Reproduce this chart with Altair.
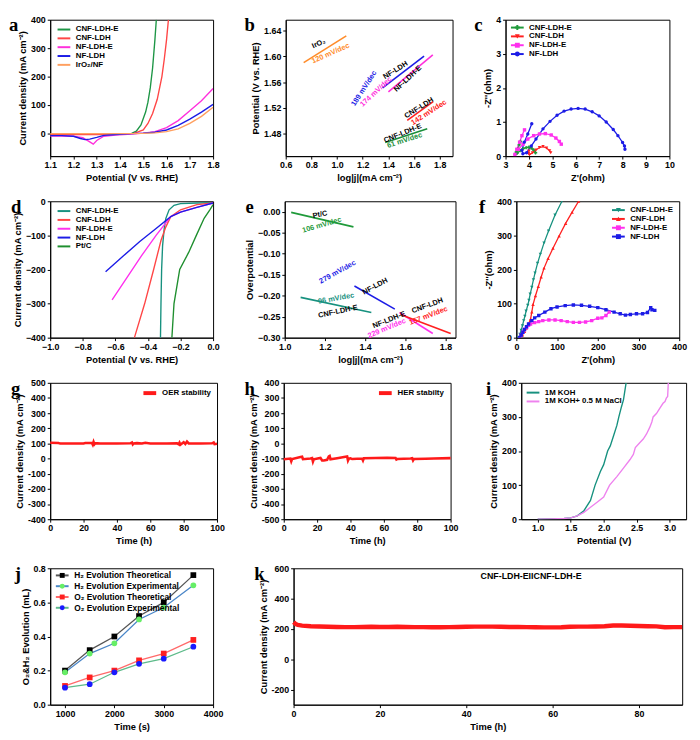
import altair as alt
import pandas as pd

FONT = "Liberation Sans Narrow, Liberation Sans, Arial, sans-serif"
SERIF = "Liberation Serif, Times New Roman, serif"

# ---------------- panel a : OER LSV ----------------
A_NAMES = ["CNF-LDH-E", "CNF-LDH", "NF-LDH-E", "NF-LDH", "IrO₂/NF"]
A_COLORS = ["#1e9646", "#ff4646", "#ff30dc", "#1c1ce6", "#ffa060"]
A_CNFE_V = [1.10, 1.20, 1.30, 1.40, 1.45, 1.47, 1.49, 1.51, 1.52, 1.53, 1.54, 1.55, 1.556]
A_CNFE_J = [-3, -3, -3, -2, 0, 8, 30, 75, 110, 160, 230, 330, 400]
A_CNF_V = [1.10, 1.20, 1.30, 1.40, 1.46, 1.50, 1.52, 1.54, 1.56, 1.58, 1.59, 1.60, 1.608]
A_CNF_J = [-4, -4, -4, -2, 0, 12, 35, 70, 120, 200, 260, 330, 400]
A_NFE_V = [1.10, 1.15, 1.20, 1.24, 1.27, 1.285, 1.30, 1.33, 1.38, 1.45, 1.50, 1.55, 1.60, 1.65, 1.70, 1.75, 1.80]
A_NFE_J = [-9, -9, -10, -15, -30, -38, -25, -10, -6, -2, 1, 6, 20, 45, 80, 115, 158]
A_NF_V = [1.10, 1.15, 1.20, 1.23, 1.25, 1.27, 1.30, 1.33, 1.38, 1.45, 1.50, 1.55, 1.60, 1.65, 1.70, 1.75, 1.80]
A_NF_J = [-8, -8, -10, -18, -22, -20, -14, -7, -4, -1, 1, 4, 12, 28, 50, 75, 102]
A_IRO_V = [1.10, 1.20, 1.30, 1.40, 1.50, 1.55, 1.60, 1.65, 1.70, 1.75, 1.80]
A_IRO_J = [-1, -1, -1, -1, 0, 2, 6, 16, 35, 60, 92]

# ---------------- panel b : OER Tafel ----------------
B_NAMES = ["IrO₂", "NF-LDH", "NF-LDH-E", "CNF-LDH", "CNF-LDH-E"]
B_COLORS = ["#ff8c2a", "#1c1ce6", "#ff30dc", "#ff2020", "#1a8f3a"]
B_X0 = [0.74, 1.355, 1.40, 1.547, 1.375]
B_X1 = [1.072, 1.678, 1.746, 1.749, 1.703]
B_Y0 = [1.590, 1.551, 1.545, 1.501, 1.467]
B_Y1 = [1.631, 1.600, 1.602, 1.530, 1.488]
B_TXT = ["IrO₂", "120 mV/dec", "NF-LDH", "189 mV/dec", "174 mV/dec", "NF-LDH-E",
         "CNF-LDH", "142 mV/dec", "CNF-LDH-E", "61 mV/dec"]
B_TX = [0.858, 0.950, 1.456, 1.211, 1.305, 1.552, 1.640, 1.716, 1.512, 1.527]
B_TY = [1.619, 1.604, 1.578, 1.550, 1.545, 1.565, 1.520, 1.513, 1.481, 1.470]
B_ANG = [335, 336, 328, 303, 317, 317, 328, 327, 338, 342]
B_TCOL = ["black", "#ff8c2a", "black", "#1c1ce6", "#ff30dc", "black", "black", "#ff2020", "black", "#1a8f3a"]

# ---------------- panel c : OER Nyquist ----------------
C_NAMES = ["CNF-LDH-E", "CNF-LDH", "NF-LDH-E", "NF-LDH"]
C_COLORS = ["#1f9a3a", "#ff2020", "#ff30ee", "#1c1ce6"]
C_SHAPES = ["cross", "triangle-down", "square", "circle"]
C_CNFE_X = [3.64, 3.58, 3.52, 3.46, 3.42, 3.50, 3.62, 3.75, 3.88, 4.00, 4.10, 4.20, 4.28]
C_CNFE_Y = [0.43, 0.33, 0.22, 0.12, 0.05, 0.09, 0.16, 0.22, 0.25, 0.26, 0.24, 0.18, 0.10]
C_CNF_X = [4.00, 3.98, 4.02, 4.15, 4.30, 4.45, 4.60, 4.75, 4.88, 4.93]
C_CNF_Y = [0.15, 0.08, 0.04, 0.10, 0.18, 0.25, 0.28, 0.24, 0.16, 0.10]
C_NFE_X = [3.81, 3.70, 3.60, 3.48, 3.40, 3.55, 3.75, 3.95, 4.20, 4.45, 4.70, 4.95, 5.15, 5.30, 5.38]
C_NFE_Y = [0.77, 0.60, 0.41, 0.20, 0.05, 0.20, 0.35, 0.50, 0.60, 0.65, 0.66, 0.62, 0.53, 0.43, 0.35]
C_NF_X = [4.12, 3.95, 3.80, 3.70, 3.74, 3.90, 4.10, 4.30, 4.60, 4.90, 5.20, 5.50, 5.80, 6.10, 6.40,
          6.70, 7.00, 7.30, 7.60, 7.80, 8.00, 8.08, 8.10]
C_NF_Y = [0.95, 0.65, 0.41, 0.17, 0.07, 0.10, 0.30, 0.50, 0.80, 1.02, 1.20, 1.32, 1.38, 1.40, 1.38,
          1.30, 1.18, 1.00, 0.78, 0.60, 0.40, 0.30, 0.20]

# ---------------- panel d : HER LSV ----------------
D_NAMES = ["CNF-LDH-E", "CNF-LDH", "NF-LDH-E", "NF-LDH", "Pt/C"]
D_COLORS = ["#17917f", "#ff4646", "#ff30ee", "#1c1ce6", "#1f8f2f"]
D_CNFE_V = [0.0, -0.10, -0.20, -0.24, -0.27, -0.29, -0.30, -0.31, -0.316, -0.32, -0.323]
D_CNFE_J = [-4, -5, -7, -12, -25, -50, -80, -130, -200, -300, -400]
D_CNF_V = [0.0, -0.10, -0.20, -0.26, -0.29, -0.32, -0.365, -0.42, -0.483]
D_CNF_J = [-5, -10, -25, -45, -75, -115, -200, -300, -400]
D_NFE_V = [0.0, -0.10, -0.20, -0.26, -0.35, -0.44, -0.53, -0.62]
D_NFE_J = [-5, -18, -32, -45, -100, -160, -225, -289]
D_NF_V = [0.0, -0.10, -0.20, -0.26, -0.35, -0.45, -0.55, -0.66]
D_NF_J = [-5, -18, -32, -45, -80, -118, -160, -207]
D_PT_V = [0.0, -0.02, -0.055, -0.103, -0.15, -0.205, -0.24, -0.253]
D_PT_J = [-10, -25, -50, -100, -150, -200, -300, -400]

# ---------------- panel e : HER Tafel ----------------
E_NAMES = ["Pt/C", "NF-LDH", "CNF-LDH-E", "NF-LDH-E", "CNF-LDH"]
E_COLORS = ["#1f9a3a", "#1c1ce6", "#17917f", "#ff30ee", "#ff2020"]
E_X0 = [1.032, 1.347, 1.079, 1.571, 1.576]
E_X1 = [1.342, 1.548, 1.431, 1.737, 1.826]
E_Y0 = [-0.0015, -0.177, -0.204, -0.240, -0.245]
E_Y1 = [-0.036, -0.232, -0.240, -0.290, -0.290]
E_TXT = ["Pt/C", "106 mV/dec", "279 mV/dec", "NF-LDH", "96 mV/dec", "CNF-LDH-E",
         "NF-LDH-E", "229 mV/dec", "CNF-LDH", "157 mV/dec"]
E_TX = [1.176, 1.185, 1.263, 1.450, 1.256, 1.265, 1.520, 1.508, 1.710, 1.716]
E_TY = [-0.007, -0.032, -0.144, -0.178, -0.207, -0.238, -0.258, -0.278, -0.224, -0.248]
E_ANG = [348, 344, 331, 332, 350, 348, 338, 337, 340, 339]
E_TCOL = ["black", "#1f9a3a", "#1c1ce6", "black", "#17917f", "black", "black", "#ff30ee", "black", "#ff2020"]

# ---------------- panel f : HER Nyquist ----------------
F_NAMES = ["CNF-LDH-E", "CNF-LDH", "NF-LDH-E", "NF-LDH"]
F_COLORS = ["#17917f", "#ff2020", "#ff30ee", "#1c1ce6"]
F_SHAPES = ["triangle-down", "triangle-up", "square", "square"]
F_CNFE_X = [5, 9, 12, 15, 18, 21, 24, 28, 31, 34, 38, 42, 46, 52, 59, 68, 79, 95, 112]
F_CNFE_Y = [0, 10, 22, 35, 50, 63, 78, 95, 110, 128, 148, 170, 190, 218, 245, 278, 313, 360, 400]
F_CNF_X = [10, 15, 20, 25, 30, 35, 38, 41, 47, 54, 61, 68, 78, 90, 105, 121, 137, 153]
F_CNF_Y = [0, 8, 18, 28, 40, 55, 75, 97, 123, 150, 178, 204, 232, 262, 298, 335, 368, 400]
F_NFE_X = [8, 12, 16, 20, 25, 30, 35, 45, 55, 65, 80, 95, 110, 125, 140, 155, 170, 185, 200, 210, 220, 228]
F_NFE_Y = [0, 8, 16, 24, 30, 36, 40, 44, 47, 50, 52, 52, 50, 47, 45, 45, 46, 50, 57, 58, 65, 75]
F_NF_X = [8, 12, 16, 20, 25, 30, 38, 45, 55, 70, 85, 100, 120, 140, 160, 180, 200, 220, 240, 255,
          268, 280, 295, 310, 322, 330, 333, 340]
F_NF_Y = [0, 8, 16, 24, 32, 40, 50, 58, 65, 75, 85, 90, 94, 96, 95, 92, 88, 82, 75, 70,
          66, 68, 70, 70, 74, 88, 82, 80]

# ---------------- panel g / h : stability ----------------
G_T = [0, 5, 6, 10, 20, 21, 25, 25.5, 26, 26.5, 27, 30, 40, 48, 49, 49.5, 50, 52, 55, 57, 60, 70,
       76, 77, 77.5, 78, 79, 80, 81, 82, 83, 90, 97, 98, 98.5, 100]
G_J = [105, 103, 99, 100, 100, 103, 103, 92, 110, 95, 102, 100, 100, 101, 106, 94, 100, 102, 100, 104,
       100, 100, 101, 95, 105, 92, 100, 108, 96, 112, 100, 100, 101, 106, 95, 98]
H_T = [0, 4, 4.5, 5, 10, 11, 11.5, 16, 17, 17.5, 18, 21, 22, 23, 24, 26, 27, 27.5, 28, 32, 37, 38,
       38.5, 39, 40, 41, 47, 47.5, 48, 55, 62, 67, 67.5, 68, 76, 77, 77.5, 78, 85, 90, 100]
H_J = [-105, -100, -118, -103, -90, -88, -104, -100, -97, -120, -105, -97, -95, -112, -113, -108,
       -85, -82, -105, -98, -88, -86, -112, -100, -98, -103, -100, -112, -98, -96, -95, -96, -106,
       -103, -100, -98, -112, -103, -101, -99, -97]

# ---------------- panel i : overall water splitting ----------------
I_NAMES = ["1M KOH", "1M KOH+ 0.5 M NaCl"]
I_COLORS = ["#17917f", "#ee82ee"]
I_KOH_V = [1.0, 1.2, 1.4, 1.5, 1.6, 1.7, 1.8, 1.87, 1.95, 2.0, 2.06, 2.1, 2.15, 2.2, 2.23, 2.27, 2.3, 2.34]
I_KOH_J = [0, 1, 2, 4, 10, 25, 55, 100, 140, 160, 200, 215, 245, 275, 300, 330, 350, 400]
I_NACL_V = [1.0, 1.2, 1.4, 1.5, 1.6, 1.7, 1.8, 1.9, 2.0, 2.09, 2.2, 2.3, 2.4, 2.45, 2.48, 2.55, 2.6,
            2.65, 2.7, 2.73, 2.75, 2.8, 2.85, 2.9, 2.93, 2.95, 2.97, 2.98]
I_NACL_J = [0, 1, 2, 4, 10, 20, 35, 50, 65, 100, 125, 150, 175, 190, 210, 225, 235, 250, 270, 285,
            300, 310, 325, 340, 345, 355, 360, 400]

# ---------------- panel j : gas evolution ----------------
J_NAMES = ["H₂ Evolution Theoretical", "H₂ Evolution Experimental",
           "O₂ Evolution Theoretical", "O₂ Evolution Experimental"]
J_LINE = ["#555555", "#4a86c8", "#ff6a6a", "#5dbb8a"]
J_MARK = ["#000000", "#66ee66", "#ff2020", "#1a1aff"]
J_SHAPES = ["square", "circle", "square", "circle"]
J_T = [1000, 1500, 2000, 2500, 3000, 3600]
J_H2_THEO = [0.20, 0.32, 0.40, 0.52, 0.60, 0.76]
J_H2_EXP = [0.19, 0.30, 0.36, 0.50, 0.57, 0.70]
J_O2_THEO = [0.11, 0.16, 0.20, 0.26, 0.30, 0.38]
J_O2_EXP = [0.10, 0.12, 0.19, 0.24, 0.27, 0.34]

# ---------------- panel k : long-term electrolysis ----------------
K_T = [0, 0.5, 1, 2, 4, 6, 8, 10, 12, 14, 16, 18, 20, 22, 24, 26, 28, 30, 32, 34, 36, 38, 40, 42, 44,
       46, 48, 50, 52, 54, 56, 58, 60, 62, 64, 66, 68, 70, 72, 74, 76, 78, 80, 82, 84, 86, 88, 90]
K_J = [245, 232, 226, 222, 218, 216, 214, 213, 212, 212, 213, 214, 213, 213, 214, 213, 212, 212, 211,
       211, 212, 213, 214, 215, 215, 215, 214, 213, 213, 212, 211, 210, 210, 211, 214, 215, 215, 216,
       218, 222, 223, 221, 219, 218, 217, 211, 212, 212]
K_LABEL = ["CNF-LDH-EIICNF-LDH-E"]
K_LX = [55]
K_LY = [548]

ZW = "\u200b"  # marks the marker-legend entries so they stay a separate legend


# ======================= helpers =======================
def long_df(names, xs_list, ys_list):
    rows = []
    for s, xs, ys in zip(names, xs_list, ys_list):
        for i, (x, y) in enumerate(zip(xs, ys)):
            rows.append({"series": s, "series2": s + ZW, "x": x, "y": y, "i": i})
    return pd.DataFrame(rows)


def enc_x(dom, vals, title, fmt=None, **kw):
    ax = dict(title=title, values=vals)
    if fmt:
        ax["format"] = fmt
    ax.update(kw)
    return alt.X("x:Q", scale=alt.Scale(domain=dom, nice=False, zero=False), axis=alt.Axis(**ax))


def enc_y(dom, vals, title, fmt=None, **kw):
    ax = dict(title=title, values=vals)
    if fmt:
        ax["format"] = fmt
    ax.update(kw)
    return alt.Y("y:Q", scale=alt.Scale(domain=dom, nice=False, zero=False), axis=alt.Axis(**ax))


LINE_SYM = "M-2.6,0H2.6"


def leg_line(x, y, fs=8, rowpad=1, offset=8, sw=2.0, orient="none"):
    d = dict(title=None, symbolType=LINE_SYM, symbolSize=25, symbolStrokeWidth=sw,
             labelFontSize=fs, labelOffset=offset, rowPadding=rowpad, padding=0,
             labelFont=FONT, labelFontWeight="bold", labelColor="black")
    if orient == "none":
        d.update(orient="none", legendX=x, legendY=y)
    else:
        d.update(orient=orient, offset=x)
    return alt.Legend(**d)


def leg_mark(x, y, fs=8, rowpad=1, offset=8):
    return alt.Legend(title=None, orient="none", legendX=x, legendY=y, symbolSize=25,
                      symbolStrokeWidth=0, labelFontSize=fs, labelOffset=offset,
                      rowPadding=rowpad, padding=0, labelFont=FONT, labelFontWeight="bold",
                      labelColor="transparent")


def letter(ch, dx, dy=-3):
    return alt.Chart(pd.DataFrame({"t": [ch]})).mark_text(
        font=SERIF, fontSize=19, fontWeight="bold", align="left", baseline="top", color="black"
    ).encode(x=alt.value(dx), y=alt.value(dy), text="t:N")


def text_layer(txt, tx, ty, ang, col, X, Y, fs=7.5):
    df = pd.DataFrame({"t": txt, "x": tx, "y": ty, "ang": ang, "col": col})
    return alt.Chart(df).mark_text(font=FONT, fontSize=fs, fontWeight="bold").encode(
        x=X, y=Y, text="t:N", angle=alt.Angle("ang:Q", scale=None),
        color=alt.Color("col:N", scale=None))


def indep(c):
    return c.resolve_scale(stroke="independent", fill="independent", shape="independent",
                           color="independent").resolve_legend(
        stroke="independent", fill="independent", shape="independent", color="independent")


def markers(df, X, Y, names, colors, shapes, lx, ly, size, fs=8, rowpad=1, clip=False):
    n2 = [n + ZW for n in names]
    return alt.Chart(df).mark_point(filled=True, size=size, opacity=1, clip=clip).encode(
        x=X, y=Y,
        fill=alt.Fill("series2:N", scale=alt.Scale(domain=n2, range=colors),
                      legend=leg_mark(lx, ly, fs=fs, rowpad=rowpad)),
        shape=alt.Shape("series2:N", scale=alt.Scale(domain=n2, range=shapes),
                        legend=leg_mark(lx, ly, fs=fs, rowpad=rowpad)))


HYPHEN = "replace(datum.label, '\u2212', '-')"
H = 139

# ======================= panels =======================
# a
a_df = long_df(A_NAMES, [A_CNFE_V, A_CNF_V, A_NFE_V, A_NF_V, A_IRO_V],
               [A_CNFE_J, A_CNF_J, A_NFE_J, A_NF_J, A_IRO_J])
aX = enc_x([1.1, 1.8], [1.1, 1.2, 1.3, 1.4, 1.5, 1.6, 1.7, 1.8], "Potential (V vs. RHE)", ".1f")
aY = enc_y([-80, 400], [0, 100, 200, 300, 400], "Current density (mA cm⁻²)")
pa = alt.layer(
    alt.Chart(a_df).mark_line(strokeWidth=1.4, clip=True).encode(
        x=aX, y=aY, order="i:Q",
        stroke=alt.Stroke("series:N", scale=alt.Scale(domain=A_NAMES, range=A_COLORS),
                          legend=leg_line(10, 6))),
    letter("a", -42),
).properties(width=166, height=H)

# b
b_df = long_df(B_NAMES, [[a, b] for a, b in zip(B_X0, B_X1)], [[a, b] for a, b in zip(B_Y0, B_Y1)])
bX = enc_x([0.6, 1.9], [0.6, 0.8, 1.0, 1.2, 1.4, 1.6, 1.8], "log|j|(mA cm⁻²)", ".1f")
bY = enc_y([1.446, 1.656], [1.48, 1.52, 1.56, 1.60, 1.64], "Potential (V vs. RHE)", ".2f")
pb = alt.layer(
    alt.Chart(b_df).mark_line(strokeWidth=1.6).encode(
        x=bX, y=bY, order="i:Q",
        stroke=alt.Stroke("series:N", scale=alt.Scale(domain=B_NAMES, range=B_COLORS), legend=None)),
    text_layer(B_TXT, B_TX, B_TY, B_ANG, B_TCOL, bX, bY),
    letter("b", -42),
).properties(width=170, height=H)

# c
c_df = long_df(C_NAMES, [C_CNFE_X, C_CNF_X, C_NFE_X, C_NF_X], [C_CNFE_Y, C_CNF_Y, C_NFE_Y, C_NF_Y])
cX = enc_x([3, 10], [3, 4, 5, 6, 7, 8, 9, 10], "Z'(ohm)")
cY = enc_y([0, 4], [0, 1, 2, 3, 4], "-Z''(ohm)")
pc = alt.layer(
    alt.Chart(c_df).mark_line(strokeWidth=1.3).encode(
        x=cX, y=cY, order="i:Q",
        stroke=alt.Stroke("series:N", scale=alt.Scale(domain=C_NAMES, range=C_COLORS),
                          legend=leg_line(8, 4))),
    markers(c_df, cX, cY, C_NAMES, C_COLORS, C_SHAPES, 8, 4, 12),
    letter("c", -32),
).properties(width=167, height=H)

# d
d_df = long_df(D_NAMES, [D_CNFE_V, D_CNF_V, D_NFE_V, D_NF_V, D_PT_V],
               [D_CNFE_J, D_CNF_J, D_NFE_J, D_NF_J, D_PT_J])
dX = enc_x([-1.0, 0.0], [-1.0, -0.8, -0.6, -0.4, -0.2, 0.0], "Potential (V vs. RHE)", ".1f")
dY = enc_y([-400, 0], [-400, -300, -200, -100, 0], "Current density (mA cm⁻²)")
pd_ = alt.layer(
    alt.Chart(d_df).mark_line(strokeWidth=1.4, clip=True).encode(
        x=dX, y=dY, order="i:Q",
        stroke=alt.Stroke("series:N", scale=alt.Scale(domain=D_NAMES, range=D_COLORS),
                          legend=leg_line(10, 6))),
    letter("d", -40),
).properties(width=166, height=H)

# e
e_df = long_df(E_NAMES, [[a, b] for a, b in zip(E_X0, E_X1)], [[a, b] for a, b in zip(E_Y0, E_Y1)])
eX = enc_x([1.0, 1.85], [1.0, 1.2, 1.4, 1.6, 1.8], "log|j|(mA cm⁻²)", ".1f")
eY = enc_y([-0.30, 0.025], [-0.30, -0.25, -0.20, -0.15, -0.10, -0.05, 0.00], "Overpotential", ".2f")
pe = alt.layer(
    alt.Chart(e_df).mark_line(strokeWidth=1.6).encode(
        x=eX, y=eY, order="i:Q",
        stroke=alt.Stroke("series:N", scale=alt.Scale(domain=E_NAMES, range=E_COLORS), legend=None)),
    text_layer(E_TXT, E_TX, E_TY, E_ANG, E_TCOL, eX, eY),
    letter("e", -40),
).properties(width=174, height=H)

# f
f_df = long_df(F_NAMES, [F_CNFE_X, F_CNF_X, F_NFE_X, F_NF_X], [F_CNFE_Y, F_CNF_Y, F_NFE_Y, F_NF_Y])
fX = enc_x([0, 400], [0, 100, 200, 300, 400], "Z'(ohm)")
fY = enc_y([0, 400], [0, 100, 200, 300, 400], "-Z''(ohm)")
pf = alt.layer(
    alt.Chart(f_df).mark_line(strokeWidth=1.3, clip=True).encode(
        x=fX, y=fY, order="i:Q",
        stroke=alt.Stroke("series:N", scale=alt.Scale(domain=F_NAMES, range=F_COLORS),
                          legend=leg_line(100, 5))),
    markers(f_df, fX, fY, F_NAMES, F_COLORS, F_SHAPES, 100, 5, 12, clip=True),
    letter("f", -38),
).properties(width=166, height=H)

# g
g_df = pd.DataFrame({"x": G_T, "y": G_J, "series": "OER stability"})
gX = enc_x([0, 100], [0, 20, 40, 60, 80, 100], "Time (h)")
gY = enc_y([-400, 500], [-400, -300, -200, -100, 0, 100, 200, 300, 400, 500],
           "Current density (mA cm⁻²)", labelExpr=HYPHEN)
pg = alt.layer(
    alt.Chart(g_df).mark_line(strokeWidth=2.6).encode(
        x=gX, y=gY,
        stroke=alt.Stroke("series:N", scale=alt.Scale(domain=["OER stability"], range=["#ff1a1a"]),
                          legend=leg_line(6, 0, sw=4, orient="top-right"))),
    letter("g", -40),
).properties(width=170, height=H)

# h
h_df = pd.DataFrame({"x": H_T, "y": H_J, "series": "HER stabilty"})
hX = enc_x([0, 100], [0, 20, 40, 60, 80, 100], "Time (h)")
hY = enc_y([-500, 400], [-500, -400, -300, -200, -100, 0, 100, 200, 300, 400],
           "Current density (mA cm⁻²)", labelExpr=HYPHEN)
ph = alt.layer(
    alt.Chart(h_df).mark_line(strokeWidth=2.6).encode(
        x=hX, y=hY,
        stroke=alt.Stroke("series:N", scale=alt.Scale(domain=["HER stabilty"], range=["#ff1a1a"]),
                          legend=leg_line(6, 0, sw=4, orient="top-right"))),
    letter("h", -40),
).properties(width=170, height=H)

# i
i_df = long_df(I_NAMES, [I_KOH_V, I_NACL_V], [I_KOH_J, I_NACL_J])
iX = enc_x([0.75, 3.25], [1.0, 1.5, 2.0, 2.5, 3.0], "Potential (V)", ".1f")
iY = enc_y([0, 400], [0, 100, 200, 300, 400], "Current desnity (mA cm⁻²)")
pi = alt.layer(
    alt.Chart(i_df).mark_line(strokeWidth=1.4, clip=True).encode(
        x=iX, y=iY, order="i:Q",
        stroke=alt.Stroke("series:N", scale=alt.Scale(domain=I_NAMES, range=I_COLORS),
                          legend=leg_line(8, 6))),
    letter("i", -36),
).properties(width=168, height=H)

# j
j_df = long_df(J_NAMES, [J_T] * 4, [J_H2_THEO, J_H2_EXP, J_O2_THEO, J_O2_EXP])
jX = enc_x([700, 4000], [1000, 2000, 3000, 4000], "Time (s)", "d")
jY = enc_y([0, 0.8], [0.0, 0.2, 0.4, 0.6, 0.8], "O₂&H₂ Evolution (mL)", ".1f")
pj = alt.layer(
    alt.Chart(j_df).mark_line(strokeWidth=1.3).encode(
        x=jX, y=jY, order="i:Q",
        stroke=alt.Stroke("series:N", scale=alt.Scale(domain=J_NAMES, range=J_LINE),
                          legend=leg_line(8, 3, fs=8.5, rowpad=2))),
    markers(j_df, jX, jY, J_NAMES, J_MARK, J_SHAPES, 8, 3, 34, fs=8.5, rowpad=2),
    letter("j", -36),
).properties(width=166, height=H)

# k
k_df = pd.DataFrame({"x": K_T, "y": K_J})
kX = enc_x([0, 90], [0, 20, 40, 60, 80], "Time (h)")
kY = enc_y([-300, 600], [-200, 0, 200, 400, 600], "Current density (mA cm⁻²)", labelExpr=HYPHEN)
k_lab = pd.DataFrame({"t": K_LABEL, "x": K_LX, "y": K_LY})
pk = alt.layer(
    alt.Chart(k_df).mark_line(strokeWidth=4.5, color="#ff1a1a").encode(x=kX, y=kY),
    alt.Chart(k_lab).mark_text(font=FONT, fontSize=9, fontWeight="bold", color="black").encode(
        x=kX, y=kY, text="t:N"),
    letter("k", -40),
).properties(width=396, height=H)

row1 = indep(alt.hconcat(indep(alt.hconcat(pa, pb, spacing=24)), pc, spacing=20))
row2 = indep(alt.hconcat(indep(alt.hconcat(pd_, pe, spacing=24)), pf, spacing=22))
row3 = indep(alt.hconcat(indep(alt.hconcat(pg, ph, spacing=18)), pi, spacing=26))
row4 = indep(alt.hconcat(pj, pk, spacing=30))

top3 = indep(alt.vconcat(row1, row2, row3, spacing=14))
chart = indep(alt.vconcat(top3, row4, spacing=18)).properties(
    padding={"left": 0, "top": 0, "right": 0, "bottom": 0}
).configure(font=FONT).configure_view(
    stroke="black", strokeWidth=1
).configure_axis(
    labelFont=FONT, titleFont=FONT, labelFontSize=9, titleFontSize=9.5,
    labelFontWeight="bold", titleFontWeight="bold", labelColor="black", titleColor="black",
    domainColor="black", tickColor="black", grid=False, tickSize=3, titlePadding=3, labelPadding=2,
    labelFlush=False
).configure_legend(labelFont=FONT, labelFontWeight="bold")

chart.save("out.html", embed_options={"renderer": "svg", "actions": False})
